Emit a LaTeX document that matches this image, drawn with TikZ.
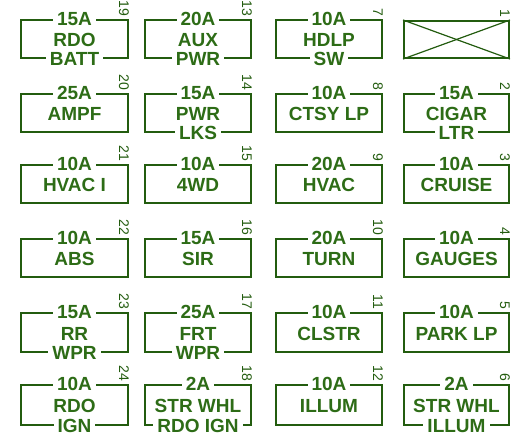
\documentclass[tikz,border=0pt]{standalone}
\usepackage{fontspec}
\setmainfont{Liberation Sans}
\definecolor{fuseline}{RGB}{35,92,15}
\definecolor{fusetext}{RGB}{45,108,22}
\tikzset{
  frame/.style={draw=fuseline, line width=2pt, inner sep=0pt, rectangle},
  lbl/.style={text=fusetext, font=\bfseries\fontsize{19}{19}\selectfont, fill=white, inner xsep=4pt, inner ysep=1pt},
  midlbl/.style={text=fusetext, font=\bfseries\fontsize{19}{19}\selectfont, inner sep=0pt},
  numlbl/.style={text=fuseline, font=\fontsize{14}{14}\selectfont, rotate=-90, anchor=north east, inner sep=0pt},
}
\newcommand\fusebox[9]{%
  \node[frame, minimum width={#4-#2}, minimum height={#5-#3}] (#1) at ({(#2+#4)/2},{-(#3+#5)/2}) {};
  \node[numlbl] (#1n) at ([yshift=2.5pt]#1.north east) {#9};
  \node[lbl] (#1a) at (#1.north) {#6};
  \if\relax\detokenize{#7}\relax\else\node[midlbl] (#1m) at ([yshift=-1pt]#1.center) {#7};\fi
  \if\relax\detokenize{#8}\relax\else\node[lbl] (#1b) at (#1.south) {#8};\fi
}
\begin{document}
\begin{tikzpicture}[x=1pt,y=1pt]
\useasboundingbox (0,0) rectangle (522,-447);
% row 1
\fusebox{f19}{21}{20}{128}{58}{15A}{RDO}{BATT}{19}
\fusebox{f13}{145}{20}{251}{58}{20A}{AUX}{PWR}{13}
\fusebox{f7}{276}{20}{382}{58}{10A}{HDLP}{SW}{7}
\node[frame, minimum width=105, minimum height=37] (f1) at (456.5,-39.5) {};
\draw[fuseline, line width=1.2pt] (f1.north west) -- (f1.south east);
\draw[fuseline, line width=1.2pt] (f1.south west) -- (f1.north east);
\node[numlbl] (f1n) at ([yshift=2.5pt]f1.north east) {1};
% row 2
\fusebox{f20}{21}{94}{128}{132}{25A}{AMPF}{}{20}
\fusebox{f14}{145}{94}{251}{132}{15A}{PWR}{LKS}{14}
\fusebox{f8}{276}{94}{382}{132}{10A}{CTSY LP}{}{8}
\fusebox{f2}{404}{94}{509}{132}{15A}{CIGAR}{LTR}{2}
% row 3
\fusebox{f21}{21}{165}{128}{203}{10A}{HVAC I}{}{21}
\fusebox{f15}{145}{165}{251}{203}{10A}{4WD}{}{15}
\fusebox{f9}{276}{165}{382}{203}{20A}{HVAC}{}{9}
\fusebox{f3}{404}{165}{509}{203}{10A}{CRUISE}{}{3}
% row 4
\fusebox{f22}{21}{239}{128}{277}{10A}{ABS}{}{22}
\fusebox{f16}{145}{239}{251}{277}{15A}{SIR}{}{16}
\fusebox{f10}{276}{239}{382}{277}{20A}{TURN}{}{10}
\fusebox{f4}{404}{239}{509}{277}{10A}{GAUGES}{}{4}
% row 5
\fusebox{f23}{21}{313}{128}{352}{15A}{RR}{WPR}{23}
\fusebox{f17}{145}{313}{251}{352}{25A}{FRT}{WPR}{17}
\fusebox{f11}{276}{313}{382}{352}{10A}{CLSTR}{}{11}
\fusebox{f5}{404}{313}{509}{352}{10A}{PARK LP}{}{5}
% row 6
\fusebox{f24}{21}{385}{128}{425}{10A}{RDO}{IGN}{24}
\fusebox{f18}{145}{385}{251}{425}{2A}{STR WHL}{RDO IGN}{18}
\fusebox{f12}{276}{385}{382}{425}{10A}{ILLUM}{}{12}
\fusebox{f6}{404}{385}{509}{425}{2A}{STR WHL}{ILLUM}{6}
\end{tikzpicture}
\end{document}
